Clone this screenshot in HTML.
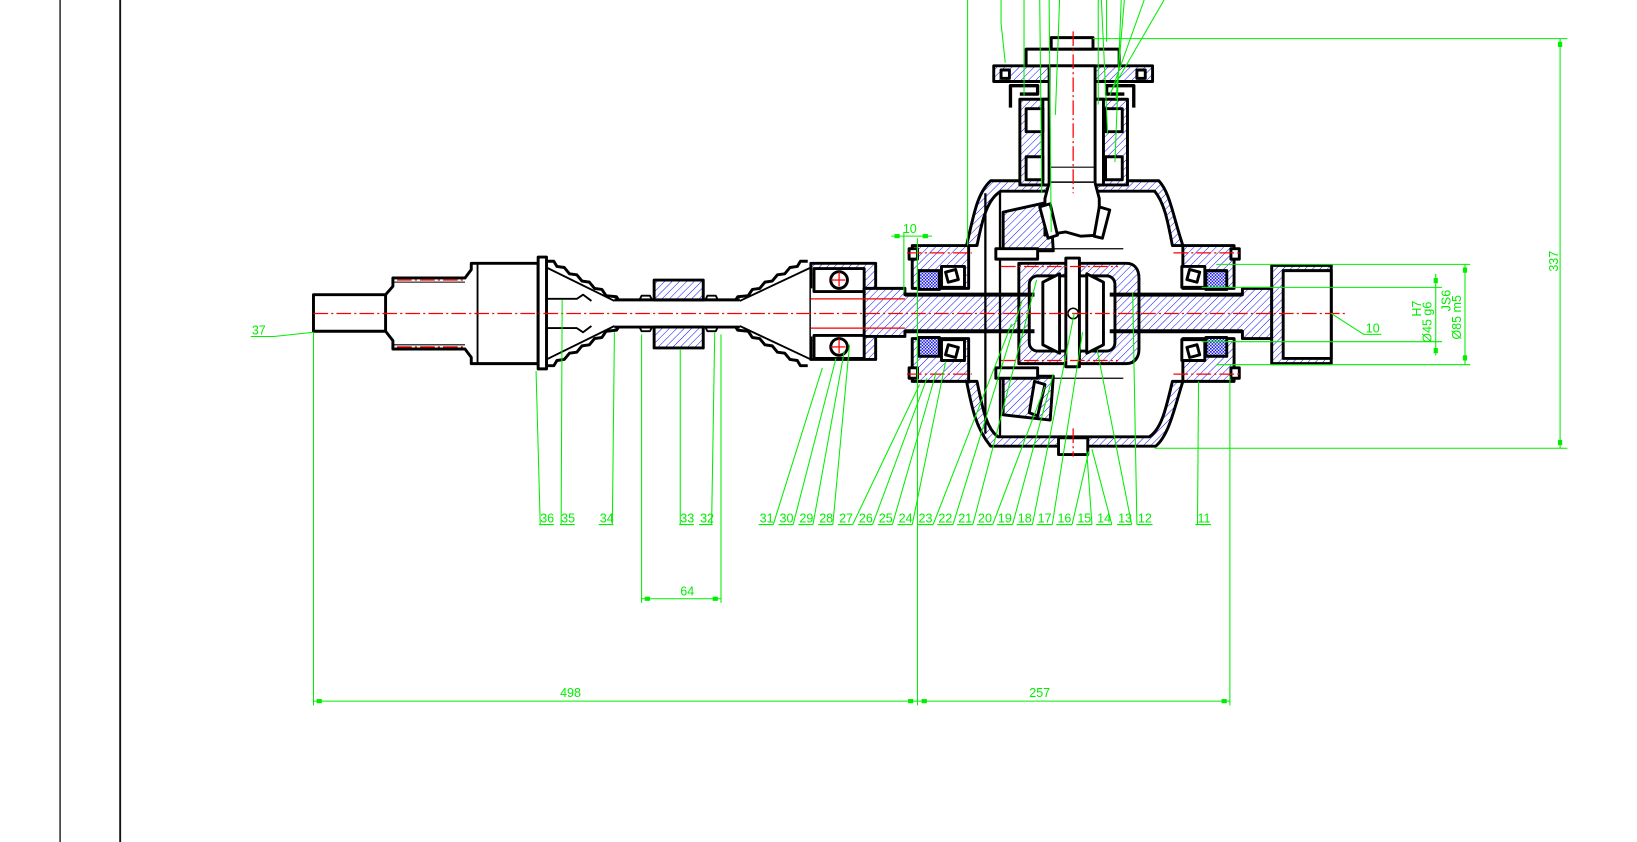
<!DOCTYPE html>
<html><head><meta charset="utf-8"><style>
html,body{margin:0;padding:0;background:#fff;}
svg{display:block;}
text{font-family:"Liberation Sans",sans-serif;fill:#00ee00;font-size:12px;}
</style></head><body>
<svg width="1637" height="842" viewBox="0 0 1566.6 805.8" preserveAspectRatio="none" xmlns="http://www.w3.org/2000/svg">
<defs>
<pattern id="h" width="5" height="5" patternUnits="userSpaceOnUse" patternTransform="rotate(45)">
<rect width="5" height="5" fill="#fff"/><line x1="0" y1="0" x2="0" y2="5" stroke="#0000ff" stroke-width="0.9"/></pattern>
<pattern id="c" width="3" height="3" patternUnits="userSpaceOnUse">
<rect width="3" height="3" fill="#fff"/><rect width="1.5" height="1.5" fill="#1010e0"/><rect x="1.5" y="1.5" width="1.5" height="1.5" fill="#1010e0"/></pattern>
</defs>
<rect width="1566.6" height="805.8" fill="#fff"/>
<line x1="57.5" y1="0" x2="57.5" y2="806" stroke="#222" stroke-width="1.4"/>
<line x1="115" y1="0" x2="115" y2="806" stroke="#111" stroke-width="1.8"/>

<g stroke="#000" stroke-width="2.8" fill="none" stroke-linejoin="round">
<rect x="300" y="282" width="69" height="35" fill="#fff"/>
<path d="M369,282 L376,274 L376,266 L445,266 L451,258 L451,252 L515,252 L515,348 L451,348 L451,342 L445,334 L376,334 L376,326 L369,317"/>
<line x1="376" y1="270" x2="445" y2="270" stroke-width="1"/>
<line x1="376" y1="330" x2="445" y2="330" stroke-width="1"/>
<line x1="457" y1="252" x2="457" y2="348" stroke-width="1.8"/>
<rect x="515" y="246" width="8" height="107" fill="#fff"/>
<polyline points="523,250 530,250 533,255 540,256 545,262 552,263 557,269 564,270 569,276 576,277 580,283 590,284 592,287"/>
<polyline points="523,350 530,350 533,345 540,344 545,338 552,337 557,331 564,330 569,324 576,323 580,317 590,316 592,313"/>
<line x1="523" y1="256" x2="588" y2="288" stroke-width="1.8"/>
<line x1="523" y1="344" x2="588" y2="312" stroke-width="1.8"/>
<path d="M523,286 L552,286 L558,282 L566,288" stroke-width="1.8"/>
<path d="M523,314 L552,314 L558,318 L566,312" stroke-width="1.8"/>
<line x1="588" y1="287" x2="708" y2="287"/>
<line x1="588" y1="313" x2="708" y2="313"/>
<rect x="626" y="268" width="47" height="19" fill="url(#h)"/>
<rect x="626" y="313" width="47" height="20" fill="url(#h)"/>
<path d="M612,287 l2,-4 h8 l2,4 M675,287 l2,-4 h8 l2,4 M612,313 l2,4 h8 l2,-4 M675,313 l2,4 h8 l2,-4" stroke-width="1.8"/>
<polyline points="773,250 766,250 763,255 756,256 751,262 744,263 739,269 732,270 727,276 720,277 716,283 706,284 704,287"/>
<polyline points="773,350 766,350 763,345 756,344 751,338 744,337 739,331 732,330 727,324 720,323 716,317 706,316 704,313"/>
<line x1="776" y1="256" x2="708" y2="288" stroke-width="1.8"/>
<line x1="776" y1="344" x2="708" y2="312" stroke-width="1.8"/>
<path d="M776,252 H838 V344 H776 Z" fill="url(#h)"/>
<rect x="776" y="276" width="51" height="46" fill="#fff" stroke="none"/>
<rect x="779" y="257" width="48" height="22" fill="#fff"/>
<rect x="779" y="321" width="48" height="22" fill="#fff"/>
<circle cx="803" cy="268" r="8" fill="#fff"/>
<circle cx="803" cy="332" r="8" fill="#fff"/>
<path d="M827,276 H866 V282 H1189 V276 H1217 V324 H1189 V317 H866 V322 H827 Z" fill="url(#h)"/>
<line x1="776" y1="286" x2="866" y2="286" stroke="#e00" stroke-width="1.2"/>
<line x1="776" y1="314" x2="866" y2="314" stroke="#e00" stroke-width="1.2"/>
<path d="M1217,254 H1274 V348 H1217 Z" fill="url(#h)"/>
<rect x="1228" y="259" width="46" height="84" fill="#fff"/>
<path d="M925,235 C932,205 935,185 948,173 L1109,173 C1120,185 1122,205 1132,235 L1122,235 C1118,215 1115,195 1105,183 L958,183 C945,190 940,210 935,235 Z" fill="url(#h)"/>
<path d="M925,365 C930,390 934,410 948,427 L1106,427 C1119,416 1124,390 1132,365 L1122,365 C1116,390 1112,410 1100,418 L955,418 C944,410 940,390 935,365 Z" fill="url(#h)"/>
<path d="M873,235 H927 V276 H873 Z" fill="url(#h)"/>
<path d="M873,324 H927 V365 H873 Z" fill="url(#h)"/>
<path d="M1132,235 H1181 V276 H1132 Z" fill="url(#h)"/>
<path d="M1132,324 H1181 V365 H1132 Z" fill="url(#h)"/>
<rect x="870" y="238" width="8" height="10" fill="#fff"/><rect x="870" y="352" width="8" height="10" fill="#fff"/>
<rect x="1178" y="238" width="8" height="10" fill="#fff"/><rect x="1178" y="352" width="8" height="10" fill="#fff"/>
<rect x="879" y="259" width="20" height="18" fill="url(#c)"/>
<rect x="879" y="323" width="20" height="18" fill="url(#c)"/>
<rect x="1154" y="259" width="20" height="18" fill="url(#c)"/>
<rect x="1154" y="323" width="20" height="18" fill="url(#c)"/>
<rect x="901" y="255" width="22" height="20" fill="#fff"/>
<rect x="901" y="325" width="22" height="20" fill="#fff"/>
<rect x="1131" y="255" width="22" height="20" fill="#fff"/>
<rect x="1131" y="325" width="22" height="20" fill="#fff"/>
<rect x="906" y="259" width="10" height="10" fill="#fff" transform="rotate(-15 911 264)"/>
<rect x="906" y="331" width="10" height="10" fill="#fff" transform="rotate(15 911 336)"/>
<rect x="1137" y="259" width="10" height="10" fill="#fff" transform="rotate(15 1142 264)"/>
<rect x="1137" y="331" width="10" height="10" fill="#fff" transform="rotate(-15 1142 336)"/>
<line x1="943" y1="185" x2="943" y2="415" stroke-width="2.2"/>
<line x1="957" y1="183" x2="957" y2="418" stroke-width="2.2"/>
<path d="M960,203 L1005,193 L1008,240 L960,240 Z" fill="url(#h)"/>
<path d="M960,360 L1008,360 L1005,402 L960,397 Z" fill="url(#h)"/>
<rect x="953" y="238" width="40" height="10" fill="#fff"/>
<rect x="953" y="352" width="40" height="10" fill="#fff"/>
<path d="M975,252 H1078 C1086,252 1090,258 1090,266 V334 C1090,342 1086,348 1078,348 H975 Z" fill="url(#h)"/>
<rect x="985" y="264" width="82" height="72" rx="8" fill="#fff"/>
<path d="M866,282 H990 M866,317 H990 M1062,282 H1189 M1062,317 H1189" stroke-width="3.8"/>
<path d="M998,270 L1014,262 L1014,338 L998,330 Z" fill="#fff"/>
<path d="M1056,270 L1040,262 L1040,338 L1056,330 Z" fill="#fff"/>
<rect x="1020" y="247" width="13" height="104" fill="#fff"/>
<circle cx="1027" cy="300" r="5" fill="#fff" stroke-width="1.5"/>
<rect x="976" y="95" width="103" height="82" fill="url(#h)"/>
<rect x="998" y="95" width="58" height="82" fill="#fff"/>
<rect x="982" y="104" width="16" height="22" fill="#fff"/>
<rect x="982" y="150" width="16" height="22" fill="#fff"/>
<rect x="1058" y="104" width="16" height="22" fill="#fff"/>
<rect x="1058" y="150" width="16" height="22" fill="#fff"/>
<rect x="951" y="63" width="152" height="15" fill="url(#h)"/>
<rect x="958" y="67" width="8" height="8" fill="#fff"/><rect x="1088" y="67" width="8" height="8" fill="#fff"/>
<path d="M967,103 V82 H993 V90 H976" stroke-width="3.2"/>
<path d="M1085,103 V82 H1059 V90 H1076" stroke-width="3.2"/>
<rect x="982" y="47" width="89" height="16" fill="#fff"/>
<rect x="1006" y="36" width="40" height="11" fill="#fff"/>
<rect x="1004" y="63" width="44" height="112" fill="#fff"/>
<line x1="1004" y1="160" x2="1048" y2="160" stroke-width="1"/>
<path d="M1004,175 L1000,190 L1000,225 L1020,222 L1034,226 L1052,225 L1052,190 L1048,175" fill="#fff"/>
<path d="M995,198 L1005,195 L1012,225 L1003,228 Z" fill="#fff"/>
<path d="M1052,198 L1062,201 L1055,228 L1047,226 Z" fill="#fff"/>
<path d="M990,365 L1000,368 L993,398 L985,395 Z" fill="#fff"/>
<rect x="1013" y="419" width="28" height="16" fill="#fff"/>
<line x1="990" y1="238" x2="1075" y2="238" stroke-width="1.2"/>
<line x1="990" y1="362" x2="1075" y2="362" stroke-width="1.2"/>
</g>

<g stroke="#f00" stroke-width="1.2" fill="none" stroke-dasharray="14,3,2,3">
<line x1="300" y1="300" x2="1290" y2="300"/>
<line x1="1027" y1="30" x2="1027" y2="185"/>
<line x1="868" y1="242" x2="930" y2="242"/><line x1="868" y1="358" x2="930" y2="358"/>
<line x1="1123" y1="242" x2="1186" y2="242"/><line x1="1123" y1="358" x2="1186" y2="358"/>
<line x1="958" y1="255" x2="1070" y2="255"/><line x1="958" y1="345" x2="1070" y2="345"/>
<line x1="380" y1="268" x2="445" y2="268"/><line x1="380" y1="332" x2="445" y2="332"/>
<line x1="795" y1="268" x2="811" y2="268"/><line x1="803" y1="260" x2="803" y2="276"/>
<line x1="795" y1="332" x2="811" y2="332"/><line x1="803" y1="324" x2="803" y2="340"/>
<line x1="1027" y1="410" x2="1027" y2="437"/>
</g>

<g stroke="#00ee00" stroke-width="1" fill="none">
<path d="M926,0 V235 M958,0 V22 L962,60 M980,0 V92 M995,0 L997,185 M1004,0 L1006,222 M1014,0 L1010,110 M1051,0 V100 M1054,0 L1060,128 M1059,0 V40 M1073,0 L1067,155 M1076,0 L1068,95 M1095,0 L1062,92 M1114,0 L1063,88"/>
<path d="M517,502 L513,355 M537,502 L538,287 M586,502 L588,318 M651,502 V334 M681,502 L684,318
M740,502 L787,352 M759,502 L800,343 M778,502 L808,336 M797,502 L813,330
M816,502 L880,368 M835,502 L887,362 M854,502 L896,356 M873,502 L905,346
M893,502 L968,310 M912,502 L978,288 M931,502 L992,268 M950,502 L1000,370
M969,502 L1008,358 M988,502 L1028,300 M1007,502 L1036,318 M1026,502 L1042,432
M1045,502 L1040,432 M1064,502 L1045,430 M1083,502 L1050,335 M1088,502 L1084,280 M1146,502 L1147,365"/>
<path d="M516,502 H530 M536,502 H550 M573,502 H587 M650,502 H664 M669,502 H682 M726,502 H740 M745,502 H759 M764,502 H778 M783,502 H797 M802,502 H816 M821,502 H835 M840,502 H854 M859,502 H873 M878,502 H893 M897,502 H912 M916,502 H931 M935,502 H950 M954,502 H969 M973,502 H988 M992,502 H1007 M1011,502 H1026 M1030,502 H1045 M1049,502 H1064 M1069,502 H1083 M1088,502 H1103 M1144,502 H1159"/>
<path d="M240,322 H262 L300,318"/>
<path d="M1274,300 L1305,320 H1322"/>
<path d="M300,318 V675 M878,228 V675 M1177,360 V675 M300,671 H1177 M614,320 V577 M690,320 V577 M614,573 H690"/>
<path d="M865,222 V280 M853,226 H892"/>
<path d="M1164,253 H1407 M1164,349 H1407 M1150,275 H1380 M1150,327 H1380 M1402,253 V349 M1374,262 V340"/>
<path d="M1046,37 H1500 M1105,429 H1500 M1493,37 V429"/>
</g>
<g fill="#00ee00">
<rect x="303" y="669" width="5" height="4"/><rect x="869" y="669" width="5" height="4"/><rect x="882" y="669" width="5" height="4"/><rect x="1169" y="669" width="5" height="4"/>
<rect x="617" y="571" width="5" height="4"/><rect x="682" y="571" width="5" height="4"/>
<rect x="1491" y="40" width="4" height="5"/><rect x="1491" y="421" width="4" height="5"/>
<rect x="1400" y="256" width="4" height="5"/><rect x="1400" y="340" width="4" height="5"/>
<rect x="1372" y="266" width="4" height="5"/><rect x="1372" y="333" width="4" height="5"/>
<rect x="856" y="224" width="5" height="4"/><rect x="883" y="224" width="5" height="4"/>
</g>
<g>
<text x="241" y="320">37</text>
<text x="1307" y="318">10</text>
<text x="864" y="223" font-size="11">10</text>
<text x="651" y="570" font-size="11">64</text>
<text x="536" y="667" font-size="11">498</text>
<text x="985" y="667" font-size="11">257</text>
<text x="517" y="500">36</text><text x="537" y="500">35</text><text x="574" y="500">34</text>
<text x="651" y="500">33</text><text x="670" y="500">32</text>
<text x="727" y="500">31</text><text x="746" y="500">30</text><text x="765" y="500">29</text><text x="784" y="500">28</text>
<text x="803" y="500">27</text><text x="822" y="500">26</text><text x="841" y="500">25</text><text x="860" y="500">24</text>
<text x="879" y="500">23</text><text x="898" y="500">22</text><text x="917" y="500">21</text><text x="936" y="500">20</text>
<text x="955" y="500">19</text><text x="974" y="500">18</text><text x="993" y="500">17</text><text x="1012" y="500">16</text>
<text x="1031" y="500">15</text><text x="1050" y="500">14</text><text x="1070" y="500">13</text><text x="1089" y="500">12</text>
<text x="1146" y="500">11</text>
<text transform="translate(1491,260) rotate(-90)" font-size="10">337</text>
<text transform="translate(1360,303) rotate(-90)" font-size="9">H7</text>
<text transform="translate(1370,328) rotate(-90)" font-size="9">Ø45 g6</text>
<text transform="translate(1388,298) rotate(-90)" font-size="9">JS6</text>
<text transform="translate(1398,325) rotate(-90)" font-size="9">Ø85 m5</text>
</g>
</svg>
</body></html>
